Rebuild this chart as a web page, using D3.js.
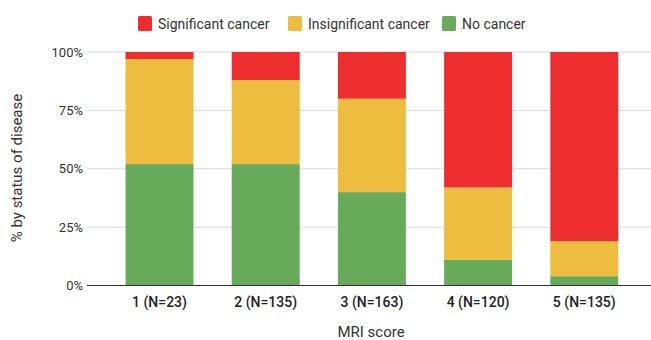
<!DOCTYPE html>
<html lang="en">
<head>
    <meta charset="UTF-8">
    <title>MRI score vs status of disease</title>
    <script src="https://d3js.org/d3.v7.min.js"></script>
    <style>
        body {
            margin: 0;
            background-color: #fff;
            font-family: Roboto, Arial, sans-serif;
        }
        .grid line {
            stroke: #d9d9d9;
        }
        .tick-label {
            fill: #333;
            font-size: 13px;
        }
    </style>
</head>
<body>
    <svg id="chart" width="651" height="340"></svg>
    <script>
// Categories and series (percent of each bar)
const categories = ["1 (N=23)", "2 (N=135)", "3 (N=163)", "4 (N=120)", "5 (N=135)"];
const noCancer = [52, 52, 40, 11, 4];
const insignificantCancer = [45, 36, 40, 31, 15];
const significantCancer = [3, 12, 20, 58, 81];
const yTicks = [0, 25, 50, 75, 100];

const seriesNames = ["No cancer", "Insignificant cancer", "Significant cancer"];
const seriesColors = ["#68ab5b", "#ecbd3e", "#ee2e2e"];
const legendOrder = ["Significant cancer", "Insignificant cancer", "No cancer"];

const width = 651, height = 340;
const margin = { top: 52, right: 14, bottom: 54.5, left: 87 };

const svg = d3.select("#chart");

// Build rows for d3.stack
const rows = categories.map((c, i) => ({
    cat: c,
    "No cancer": noCancer[i],
    "Insignificant cancer": insignificantCancer[i],
    "Significant cancer": significantCancer[i]
}));
const stacked = d3.stack().keys(seriesNames)(rows);

const x = d3.scaleBand()
    .domain(categories)
    .range([106.4, 637.4])
    .paddingInner(0.36)
    .paddingOuter(0.18);

const y = d3.scaleLinear()
    .domain([0, 100])
    .range([height - margin.bottom, margin.top]);

const color = d3.scaleOrdinal().domain(seriesNames).range(seriesColors);

// Gridlines
svg.append("g")
    .attr("class", "grid")
    .selectAll("line")
    .data(yTicks.filter(t => t > 0))
    .enter().append("line")
    .attr("x1", margin.left)
    .attr("x2", width)
    .attr("y1", d => y(d))
    .attr("y2", d => y(d));

// Y tick labels
svg.append("g")
    .selectAll("text")
    .data(yTicks)
    .enter().append("text")
    .attr("class", "tick-label")
    .attr("x", 83)
    .attr("y", d => y(d))
    .attr("dy", "0.35em")
    .attr("text-anchor", "end")
    .text(d => d + "%");

// Bars
svg.append("g")
    .selectAll("g")
    .data(stacked)
    .enter().append("g")
    .attr("fill", d => color(d.key))
    .selectAll("rect")
    .data(d => d)
    .enter().append("rect")
    .attr("x", d => x(d.data.cat))
    .attr("width", x.bandwidth())
    .attr("y", d => y(d[1]))
    .attr("height", d => y(d[0]) - y(d[1]));

// Baseline
svg.append("line")
    .attr("x1", margin.left)
    .attr("x2", width)
    .attr("y1", y(0))
    .attr("y2", y(0))
    .attr("stroke", "#333")
    .attr("stroke-width", 1.2);

// X labels
svg.append("g")
    .selectAll("text")
    .data(categories)
    .enter().append("text")
    .attr("x", d => x(d) + x.bandwidth() / 2)
    .attr("y", 307)
    .attr("text-anchor", "middle")
    .attr("font-size", "14px")
    .attr("font-weight", 500)
    .attr("fill", "#222")
    .text(d => d);

// Axis titles
svg.append("text")
    .attr("x", 371)
    .attr("y", 337)
    .attr("text-anchor", "middle")
    .attr("font-size", "15px")
    .attr("fill", "#333")
    .text("MRI score");

svg.append("text")
    .attr("transform", "translate(22,168) rotate(-90)")
    .attr("text-anchor", "middle")
    .attr("font-size", "15px")
    .attr("fill", "#333")
    .text("% by status of disease");

// Legend
const legendX = [138, 288, 442];
const legend = svg.append("g")
    .selectAll("g")
    .data(legendOrder)
    .enter().append("g")
    .attr("transform", (d, i) => `translate(${legendX[i]},16)`);

legend.append("rect")
    .attr("width", 14)
    .attr("height", 15)
    .attr("rx", 1.5)
    .attr("fill", d => color(d));

legend.append("text")
    .attr("x", 20)
    .attr("y", 12.5)
    .attr("font-size", "14px")
    .attr("fill", "#333")
    .text(d => d);
    </script>
</body>
</html>
